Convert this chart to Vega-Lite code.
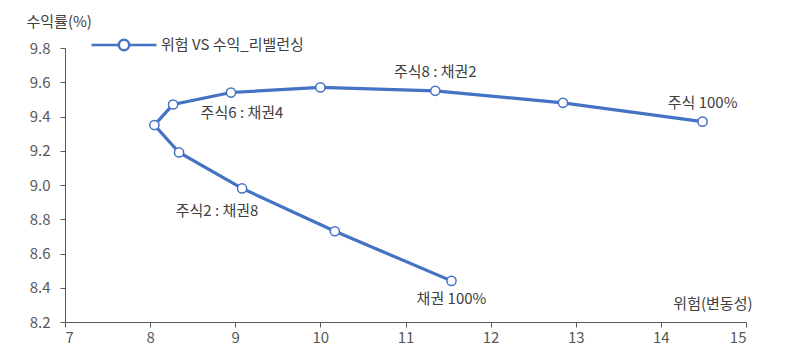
{
  "$schema": "https://vega.github.io/schema/vega-lite/v6.json",
  "width": 681,
  "height": 274,
  "autosize": {"type": "none"},
  "padding": {"left": 65, "top": 48, "right": 54, "bottom": 34},
  "background": "white",
  "config": {
    "view": {"stroke": null},
    "font": "Noto Sans CJK KR",
    "text": {"font": "Noto Sans CJK KR"}
  },
  "data": {
    "values": [
      {"stock": 0, "risk": 11.54, "ret": 8.44, "label": "채권 100%", "pos": "below", "series": "위험 VS 수익_리밸런싱"},
      {"stock": 1, "risk": 10.17, "ret": 8.73, "label": "", "pos": "", "series": "위험 VS 수익_리밸런싱"},
      {"stock": 2, "risk": 9.08, "ret": 8.98, "label": "주식2 : 채권8", "pos": "belowleft", "series": "위험 VS 수익_리밸런싱"},
      {"stock": 3, "risk": 8.34, "ret": 9.19, "label": "", "pos": "", "series": "위험 VS 수익_리밸런싱"},
      {"stock": 4, "risk": 8.05, "ret": 9.35, "label": "", "pos": "", "series": "위험 VS 수익_리밸런싱"},
      {"stock": 5, "risk": 8.27, "ret": 9.47, "label": "", "pos": "", "series": "위험 VS 수익_리밸런싱"},
      {"stock": 6, "risk": 8.95, "ret": 9.54, "label": "주식6 : 채권4", "pos": "belowright", "series": "위험 VS 수익_리밸런싱"},
      {"stock": 7, "risk": 10.0, "ret": 9.57, "label": "", "pos": "", "series": "위험 VS 수익_리밸런싱"},
      {"stock": 8, "risk": 11.35, "ret": 9.55, "label": "주식8 : 채권2", "pos": "above", "series": "위험 VS 수익_리밸런싱"},
      {"stock": 9, "risk": 12.85, "ret": 9.48, "label": "", "pos": "", "series": "위험 VS 수익_리밸런싱"},
      {"stock": 10, "risk": 14.49, "ret": 9.37, "label": "주식 100%", "pos": "above", "series": "위험 VS 수익_리밸런싱"}
    ]
  },
  "encoding": {
    "x": {
      "field": "risk", "type": "quantitative",
      "scale": {"domain": [7, 15], "nice": false, "zero": false},
      "axis": {
        "values": [7, 8, 9, 10, 11, 12, 13, 14, 15],
        "grid": false, "domainColor": "#595959", "tickColor": "#595959",
        "tickSize": 5, "labelFontSize": 15, "labelColor": "#595959",
        "labelFont": "Noto Sans CJK KR", "labelPadding": 3,
        "title": "위험(변동성)", "titleFont": "Noto Sans CJK KR", "titleFontSize": 15,
        "titleFontWeight": "normal", "titleColor": "#404040",
        "titleX": 687, "titleY": -19, "titleAlign": "right", "titleBaseline": "middle", "titleAnchor": null
      }
    },
    "y": {
      "field": "ret", "type": "quantitative",
      "scale": {"domain": [8.2, 9.8], "nice": false, "zero": false},
      "axis": {
        "values": [8.2, 8.4, 8.6, 8.8, 9.0, 9.2, 9.4, 9.6, 9.8],
        "format": ".1f",
        "grid": false, "domainColor": "#595959", "tickColor": "#595959",
        "tickSize": 5, "labelFontSize": 15, "labelColor": "#595959",
        "labelFont": "Noto Sans CJK KR", "labelPadding": 10,
        "title": "수익률(%)", "titleFont": "Noto Sans CJK KR", "titleFontSize": 15,
        "titleFontWeight": "normal", "titleColor": "#404040", "titleAngle": 0,
        "titleX": -39, "titleY": -27, "titleAlign": "left", "titleBaseline": "middle", "titleAnchor": null
      }
    }
  },
  "layer": [
    {
      "mark": {"type": "line", "strokeWidth": 3.2},
      "encoding": {
        "order": {"field": "stock", "type": "quantitative"},
        "color": {
          "field": "series", "type": "nominal",
          "scale": {"range": ["#4472C4"]},
          "legend": {
            "title": null, "orient": "none", "legendX": 25, "legendY": -37,
            "symbolType": "M-1,0H-0.16M0.16,0H1M-0.16,0A0.16,0.16 0 1,0 0.16,0A0.16,0.16 0 1,0 -0.16,0",
            "symbolSize": 4225, "symbolStrokeWidth": 2, "symbolFillColor": "white",
            "labelFont": "Noto Sans CJK KR", "labelFontSize": 15, "labelColor": "#404040", "labelOffset": 3,
            "encode": {"symbols": {"update": {"fill": {"value": "white"}, "stroke": {"value": "#4472C4"}, "strokeWidth": {"value": 2.5}}}}
          }
        }
      }
    },
    {
      "mark": {"type": "point", "filled": true, "fill": "white", "stroke": "#4472C4", "strokeWidth": 1.5, "size": 85, "opacity": 1}
    },
    {
      "transform": [{"filter": "datum.pos === 'above'"}],
      "mark": {"type": "text", "dy": -19, "fontSize": 15, "color": "#404040", "font": "Noto Sans CJK KR"},
      "encoding": {"text": {"field": "label"}}
    },
    {
      "transform": [{"filter": "datum.pos === 'below'"}],
      "mark": {"type": "text", "dy": 18, "fontSize": 15, "color": "#404040", "font": "Noto Sans CJK KR"},
      "encoding": {"text": {"field": "label"}}
    },
    {
      "transform": [{"filter": "datum.pos === 'belowright'"}],
      "mark": {"type": "text", "dx": 11, "dy": 20, "fontSize": 15, "color": "#404040", "font": "Noto Sans CJK KR"},
      "encoding": {"text": {"field": "label"}}
    },
    {
      "transform": [{"filter": "datum.pos === 'belowleft'"}],
      "mark": {"type": "text", "dx": -25, "dy": 23, "fontSize": 15, "color": "#404040", "font": "Noto Sans CJK KR"},
      "encoding": {"text": {"field": "label"}}
    }
  ]
}
